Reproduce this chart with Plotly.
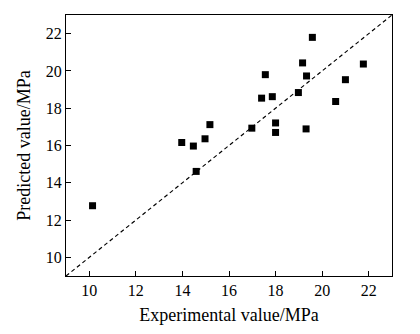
import plotly.graph_objects as go

experimental = [10.14, 13.97, 14.47, 14.97, 15.18, 14.59, 16.98, 17.56, 17.40, 17.86,
                18.0, 18.0, 18.98, 19.16, 19.33, 19.31, 19.58, 20.58, 21.0, 21.77]
predicted = [12.77, 16.16, 15.97, 16.36, 17.12, 14.61, 16.93, 19.80, 18.54, 18.62,
             17.21, 16.70, 18.84, 20.43, 19.73, 16.89, 21.80, 18.36, 19.53, 20.37]
line_range = [9, 23]
tick_vals = [10, 12, 14, 16, 18, 20, 22]
tick_text = ["10", "12", "14", "16", "18", "20", "22"]

fig = go.Figure()
fig.add_trace(go.Scatter(x=line_range, y=line_range, mode="lines",
                         line=dict(color="black", width=1.2, dash="4px,3px"),
                         showlegend=False, hoverinfo="skip"))
fig.add_trace(go.Scatter(x=experimental, y=predicted, mode="markers",
                         marker=dict(symbol="square", size=7, color="black"),
                         showlegend=False))

font = "Liberation Serif"


def axis(title, standoff):
    return dict(range=line_range, tickmode="array", tickvals=tick_vals, ticktext=tick_text,
                ticks="inside", ticklen=5, tickwidth=1, tickcolor="black",
                showline=True, linecolor="black", linewidth=1.2, mirror=True,
                showgrid=False, zeroline=False, automargin=False,
                tickfont=dict(family=font, size=16, color="black"),
                title=dict(text=title, font=dict(family=font, size=18, color="black"),
                           standoff=standoff))


# page body has an 8px default margin, so the figure is sized to fit inside the window
fig.update_layout(width=412, height=326, margin=dict(l=58, r=28, t=7, b=58),
                  font=dict(family=font, size=16, color="black"),
                  xaxis=axis("Experimental value/MPa", 10),
                  yaxis=axis("Predicted value/MPa", 10),
                  plot_bgcolor="white", paper_bgcolor="white")
fig.write_html("out.html")
